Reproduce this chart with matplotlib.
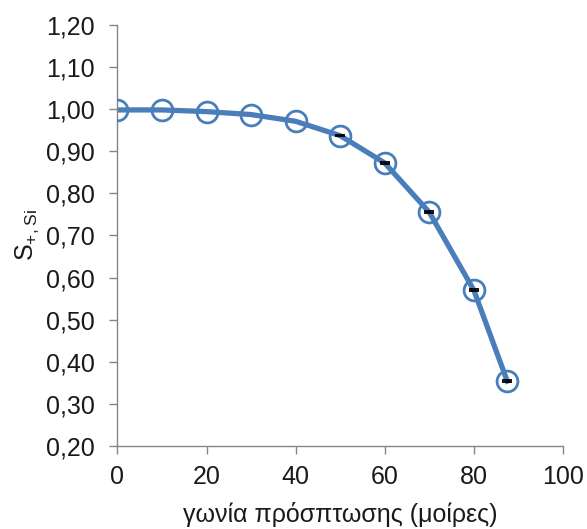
import matplotlib
matplotlib.use("Agg")
import matplotlib.pyplot as plt
from matplotlib.ticker import FuncFormatter

plt.rcParams['font.family'] = ['Liberation Sans', 'DejaVu Sans']
plt.rcParams['mathtext.default'] = 'regular'

# incidence angle (degrees) and S+ for Si
angle = [0, 10, 20, 30, 40, 50, 60, 70, 80, 87.5]
s_si = [0.998, 0.998, 0.994, 0.987, 0.971, 0.937, 0.872, 0.755, 0.570, 0.354]
s_err = [0.0, 0.0, 0.0, 0.0, 0.0, 0.002, 0.002, 0.002, 0.002, 0.002]

blue = '#4a7ebb'
grey = '#868686'

fig = plt.figure(figsize=(5.87, 5.29), dpi=100)
ax = fig.add_axes([0.200, 0.157, 0.759, 0.796])

# error bars only where there is an error
ex = [a for a, e in zip(angle, s_err) if e > 0]
ey = [s for s, e in zip(s_si, s_err) if e > 0]
ee = [e for e in s_err if e > 0]
ax.errorbar(ex, ey, yerr=ee, fmt='none', ecolor='black',
            elinewidth=1, capsize=3.5, capthick=1.3, zorder=3)
ax.plot(angle, s_si, color=blue, lw=3.8, zorder=2)
ax.plot(angle, s_si, 'o', ms=15, mfc='none', mec=blue, mew=2, zorder=4)

ax.set_xlim(0, 100)
ax.set_ylim(0.20, 1.20)
ax.set_xticks(range(0, 101, 20))
ax.set_yticks([0.2 + 0.1 * i for i in range(11)])
ax.yaxis.set_major_formatter(FuncFormatter(lambda v, p: f"{v:.2f}".replace('.', ',')))

for s in ['top', 'right']:
    ax.spines[s].set_visible(False)
for s in ['left', 'bottom']:
    ax.spines[s].set_color(grey)
    ax.spines[s].set_linewidth(1)
ax.tick_params(colors=grey, labelcolor='#1a1a1a', labelsize=18, length=6, width=1)
ax.tick_params(axis='x', pad=8)
ax.tick_params(axis='y', pad=10)

ax.set_xlabel('γωνία πρόσπτωσης (μοίρες)', fontsize=18, labelpad=9, color='#1a1a1a')
ax.set_ylabel('S$_{+, Si}$', fontsize=18, labelpad=4, color='#1a1a1a')

fig.savefig('out.png', dpi=100)
